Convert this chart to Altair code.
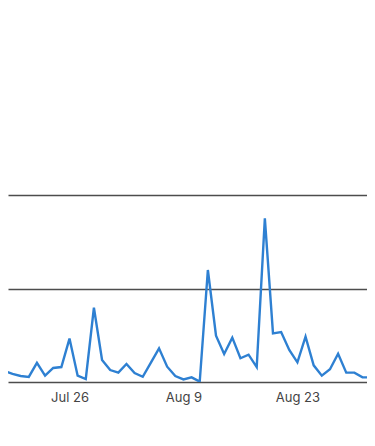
import altair as alt
import pandas as pd

dates = [
    "2021-07-17", "2021-07-18", "2021-07-19", "2021-07-20", "2021-07-21", "2021-07-22",
    "2021-07-23", "2021-07-24", "2021-07-25", "2021-07-26", "2021-07-27", "2021-07-28",
    "2021-07-29", "2021-07-30", "2021-07-31", "2021-08-01", "2021-08-02", "2021-08-03",
    "2021-08-04", "2021-08-05", "2021-08-06", "2021-08-07", "2021-08-08", "2021-08-09",
    "2021-08-10", "2021-08-11", "2021-08-12", "2021-08-13", "2021-08-14", "2021-08-15",
    "2021-08-16", "2021-08-17", "2021-08-18", "2021-08-19", "2021-08-20", "2021-08-21",
    "2021-08-22", "2021-08-23", "2021-08-24", "2021-08-25", "2021-08-26", "2021-08-27",
    "2021-08-28", "2021-08-29", "2021-08-30", "2021-08-31", "2021-09-01", "2021-09-02",
]
values = [
    16.0, 6.0, 4.3, 3.2, 2.7, 10.2,
    3.4, 7.5, 8.0, 23.2, 3.4, 1.6,
    39.7, 11.8, 6.4, 5.0, 9.6, 4.8,
    2.8, 10.4, 18.0, 8.2, 3.2, 1.4,
    2.5, 0.2, 59.9, 24.8, 15.0, 23.7,
    12.7, 14.6, 8.0, 87.5, 26.0, 26.7,
    17.1, 10.5, 24.2, 8.9, 3.4, 6.8,
    15.1, 5.0, 5.0, 2.5, 2.5, 2.5,
]
tick_dates = [(2021, 7, 26), (2021, 8, 9), (2021, 8, 23)]
grid_values = [0, 50, 100]

df = pd.DataFrame({"date": [d + "T00:00:00" for d in dates], "value": values})

x_domain = [
    alt.DateTime(year=2021, month=7, date=18, hours=10, minutes=41),
    alt.DateTime(year=2021, month=8, date=31, hours=13, minutes=12),
]

chart = (
    alt.Chart(df)
    .mark_line(color="#2e80d2", strokeWidth=2.4, clip=True)
    .encode(
        x=alt.X(
            "date:T",
            scale=alt.Scale(domain=x_domain, nice=False),
            axis=alt.Axis(
                values=[alt.DateTime(year=y, month=m, date=d) for y, m, d in tick_dates],
                format="%b %-d",
                grid=False,
                ticks=False,
                domain=False,
                labelFont="Inter",
                labelFontSize=13,
                labelColor="#444444",
                labelPadding=9,
                title=None,
            ),
        ),
        y=alt.Y(
            "value:Q",
            scale=alt.Scale(domain=[0, 100], nice=False),
            axis=alt.Axis(
                values=grid_values,
                grid=True,
                gridColor="#4d4d4d",
                gridWidth=1.4,
                labels=False,
                ticks=False,
                domain=False,
                title=None,
            ),
        ),
    )
    .properties(
        width=359,
        height=187,
        padding={"top": 187, "left": 0, "right": 0, "bottom": 10},
    )
    .configure_view(stroke=None)
)

chart.save("out.html", embed_options={"renderer": "svg", "actions": False})
